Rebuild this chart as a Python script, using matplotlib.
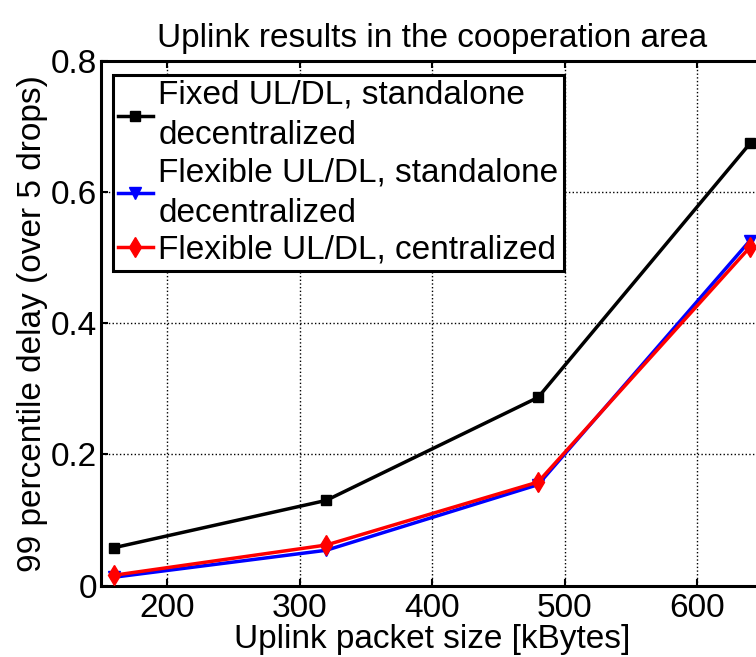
import numpy as np
import matplotlib
matplotlib.use("Agg")
import matplotlib.pyplot as plt

plt.rcParams['font.family'] = ['Liberation Sans', 'DejaVu Sans']

# packet sizes [kBytes]
packet_size = [160, 320, 480, 640]

# 99 percentile delay per scheme
fixed_standalone = [0.058, 0.130, 0.287, 0.674]
flex_standalone = [0.013, 0.054, 0.154, 0.526]
flex_centralized = [0.016, 0.062, 0.158, 0.516]

labels = ["Fixed UL/DL, standalone\ndecentralized",
          "Flexible UL/DL, standalone\ndecentralized",
          "Flexible UL/DL, centralized"]

x_ticks = [200, 300, 400, 500, 600]
y_ticks = [0, 0.2, 0.4, 0.6, 0.8]
y_ticklabels = ["0", "0.2", "0.4", "0.6", "0.8"]

FS = 24

fig = plt.figure(figsize=(7.56, 6.57), dpi=100)
# axes runs past the right edge of the figure, like the source
ax = fig.add_axes([0.1336, 0.1085, 0.876, 0.799])

ax.plot(packet_size, fixed_standalone, color='black', lw=2.5, marker='s',
        ms=7, mfc='black', mec='black', label=labels[0], clip_on=False, zorder=3)
ax.plot(packet_size, flex_standalone, color='blue', lw=2.5, marker='v',
        ms=9, mfc='blue', mec='blue', label=labels[1], clip_on=False, zorder=3)
ax.plot(packet_size, flex_centralized, color='red', lw=2.5, marker='d',
        ms=10, mfc='red', mec='red', label=labels[2], clip_on=False, zorder=4)

ax.set_xlim(150, 650)
ax.set_ylim(0, 0.8)
ax.set_xticks(x_ticks)
ax.set_yticks(y_ticks)
ax.set_yticklabels(y_ticklabels)
ax.tick_params(direction='in', length=5, width=1.5, labelsize=FS,
               top=True, right=True)
ax.tick_params(axis='x', pad=5)
ax.tick_params(axis='y', pad=3)

ax.grid(True, color='black', linestyle=':', lw=1)
for s in ax.spines.values():
    s.set_linewidth(2.2)

ax.set_title("Uplink results in the cooperation area", fontsize=FS, pad=10)
ax.set_xlabel("Uplink packet size [kBytes]", fontsize=FS, labelpad=0)
ax.set_ylabel("99 percentile delay (over 5 drops)", fontsize=FS, labelpad=2)

leg = ax.legend(loc='upper left', bbox_to_anchor=(0.0177, 0.973), fontsize=FS,
                handlelength=1.05, handletextpad=0.17, labelspacing=0.18,
                borderpad=0.15, borderaxespad=0, fancybox=False, framealpha=1)
for t in leg.get_texts():
    t.set_linespacing(1.39)
leg.get_frame().set_edgecolor('black')
leg.get_frame().set_linewidth(2.2)

fig.savefig("out.png", dpi=100)
